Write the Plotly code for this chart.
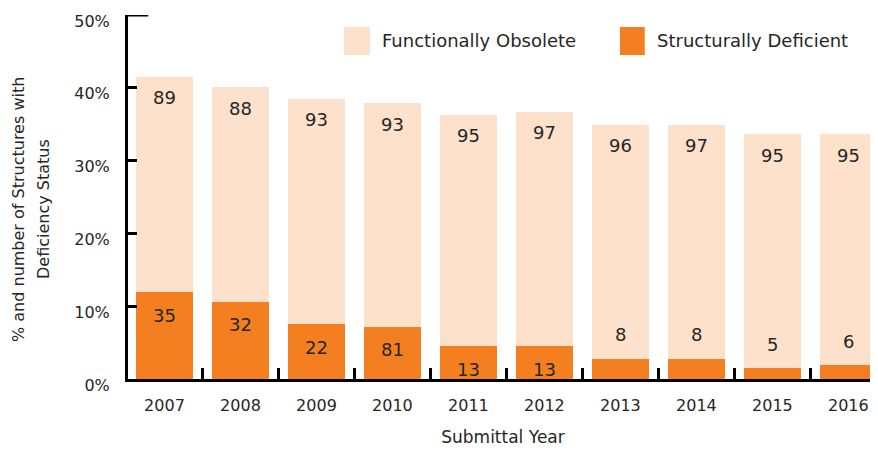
import plotly.graph_objects as go

years = ["2007", "2008", "2009", "2010", "2011", "2012", "2013", "2014", "2015", "2016"]
# percentage of structures (bar heights)
pct_total = [41.5, 40.1, 38.5, 37.9, 36.3, 36.7, 34.9, 34.9, 33.6, 33.6]
pct_sd = [11.95, 10.6, 7.55, 7.15, 4.5, 4.5, 2.75, 2.75, 1.5, 1.9]
# number of structures (labels)
num_fo = [89, 88, 93, 93, 95, 97, 96, 97, 95, 95]
num_sd = [35, 32, 22, 81, 13, 13, 8, 8, 5, 6]

pct_fo = [round(t - s, 2) for t, s in zip(pct_total, pct_sd)]

FO_COL = "#FDE1CA"
SD_COL = "#F47F21"
TXT = "#262626"
FONT = "DejaVu Sans"

fig = go.Figure()
fig.add_trace(go.Bar(x=years, y=pct_sd, name="Structurally Deficient",
                     marker=dict(color=SD_COL, line=dict(width=0))))
fig.add_trace(go.Bar(x=years, y=pct_fo, name="Functionally Obsolete",
                     marker=dict(color=FO_COL, line=dict(width=0))))

# count labels (x given as category index)
for i, (tot, n) in enumerate(zip(pct_total, num_fo)):
    fig.add_annotation(x=i, y=tot, text=str(n), showarrow=False,
                       yshift=-21, font=dict(size=18, color=TXT, family=FONT))
for i, (sd, n) in enumerate(zip(pct_sd, num_sd)):
    shift = -23 if sd >= 4 else 24
    fig.add_annotation(x=i, y=sd, text=str(n), showarrow=False,
                       yshift=shift, font=dict(size=18, color=TXT, family=FONT))

# legend drawn by hand (big swatches)
legend_items = [("Functionally Obsolete", FO_COL, 0.288, 0.3227, 0.336),
                ("Structurally Deficient", SD_COL, 0.656, 0.689, 0.7027)]
for name, col, x0, x1, tx in legend_items:
    fig.add_shape(type="rect", xref="paper", yref="paper", x0=x0, x1=x1,
                  y0=0.890, y1=0.967, fillcolor=col, line=dict(width=0))
    fig.add_annotation(xref="paper", yref="paper", x=tx, y=0.9286, text=name,
                       showarrow=False, xanchor="left", yanchor="middle",
                       font=dict(size=18, color=TXT, family=FONT))

# y title, two lines
for txt, xp in [("% and number of Structures with", -0.1467),
                ("Deficiency Status", -0.1133)]:
    fig.add_annotation(xref="paper", yref="paper", x=xp, y=0.467, text=txt,
                       textangle=-90, showarrow=False, xanchor="center",
                       yanchor="middle", font=dict(size=16, color=TXT, family=FONT))

# longer tick at the top of the y axis
fig.add_shape(type="line", xref="paper", yref="y", x0=0, x1=0.027, y0=50, y1=50,
              line=dict(color="black", width=3))

fig.update_layout(
    width=878, height=451,
    barmode="stack", bargap=0.25,
    showlegend=False,
    plot_bgcolor="white", paper_bgcolor="white",
    margin=dict(l=120, r=8, t=7, b=80),
    font=dict(family=FONT, color=TXT),
    xaxis=dict(type="category", range=[-0.48, 9.39], showline=True,
               linecolor="black", linewidth=3, automargin=False,
               ticks="inside", tickson="boundaries", ticklen=11, tickwidth=3,
               tickcolor="black", tickfont=dict(size=16, color=TXT),
               ticklabelstandoff=10, showgrid=False,
               title=dict(text="Submittal Year", font=dict(size=17, color=TXT),
                          standoff=17)),
    yaxis=dict(range=[0, 50], dtick=10, ticksuffix="%", showline=True,
               linecolor="black", linewidth=3, ticks="inside", ticklen=9,
               tickwidth=3, tickcolor="black", showgrid=False, zeroline=False,
               ticklabeloverflow="allow", automargin=False,
               tickfont=dict(size=16, color=TXT), ticklabelstandoff=12,
               ticklabelshift=6),
)

fig.write_html("out.html")
